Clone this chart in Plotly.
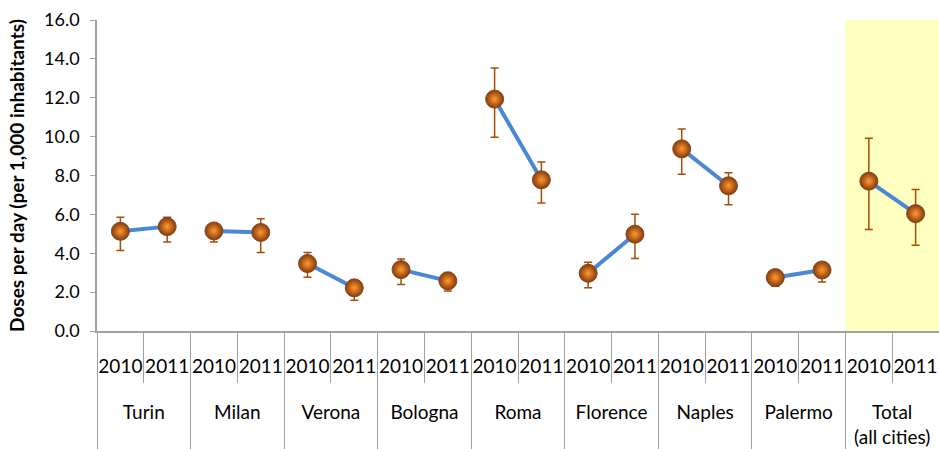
import plotly.graph_objects as go

cities = ["Turin", "Milan", "Verona", "Bologna", "Roma", "Florence", "Naples", "Palermo", "Total<br>(all cities)"]
years = ["2010", "2011"]
dose_2010 = [5.13, 5.15, 3.47, 3.16, 11.93, 2.97, 9.37, 2.75, 7.71]
dose_2011 = [5.37, 5.07, 2.22, 2.58, 7.78, 4.98, 7.47, 3.14, 6.04]
upper_2010 = [5.85, 5.44, 4.04, 3.71, 13.53, 3.54, 10.39, 3.10, 9.91]
lower_2010 = [4.14, 4.58, 2.77, 2.39, 9.97, 2.22, 8.07, 2.30, 5.22]
upper_2011 = [5.85, 5.77, 2.61, 3.01, 8.69, 6.01, 8.14, 3.50, 7.28]
lower_2011 = [4.58, 4.04, 1.58, 2.06, 6.58, 3.73, 6.49, 2.52, 4.41]
y_ticks = [0, 2, 4, 6, 8, 10, 12, 14, 16]

FONT = "Lato"
GREY = "#a0a0a0"
n_years = len(years)
n_slots = len(cities) * n_years
slot_pos = list(range(n_slots))
slot_text = years * len(cities)
slot_edges = [p - 0.5 for p in slot_pos] + [n_slots - 0.5]
group_centers = [i * n_years + (n_years - 1) / 2 for i in range(len(cities))]
group_edges = [i * n_years - 0.5 for i in range(len(cities) + 1)]

fig = go.Figure()

# connecting lines (one per city, on the year axis)
for i, c in enumerate(cities):
    xs = [i * n_years + k for k in range(n_years)]
    fig.add_trace(go.Scatter(
        x=xs, y=[dose_2010[i], dose_2011[i]], mode="lines", name=c,
        line=dict(color="#4a88d6", width=4), showlegend=False, hoverinfo="skip"))

# markers with error bars (on the overlaid city axis, same range)
for i, c in enumerate(cities):
    xs = [i * n_years + k for k in range(n_years)]
    ys = [dose_2010[i], dose_2011[i]]
    plus = [upper_2010[i] - dose_2010[i], upper_2011[i] - dose_2011[i]]
    minus = [dose_2010[i] - lower_2010[i], dose_2011[i] - lower_2011[i]]
    fig.add_trace(go.Scatter(
        x=xs, y=ys, xaxis="x2", mode="markers", name=c,
        marker=dict(size=18, color="#8a3a06",
                    gradient=dict(type="radial", color="#ff9a35"),
                    line=dict(color="#7a4a30", width=1)),
        error_y=dict(type="data", symmetric=False, array=plus, arrayminus=minus,
                     color="#a84c08", thickness=1.5, width=4),
        showlegend=False, hoverinfo="y"))

fig.add_shape(type="rect", xref="x", yref="y",
              x0=group_edges[-2], x1=group_edges[-1], y0=0, y1=16.41,
              fillcolor="#ffffc0", line=dict(width=0), layer="below")

xr = [-0.5, n_slots - 0.5]
fig.update_layout(
    width=939, height=449,
    margin=dict(l=97, r=0, t=20, b=118),
    paper_bgcolor="white", plot_bgcolor="white",
    font=dict(family=FONT, color="black"),
    xaxis=dict(range=xr, showline=True, linecolor=GREY, linewidth=1.5,
               tickmode="array", tickvals=slot_pos, ticktext=slot_text, ticks="",
               minor=dict(tickmode="array", tickvals=slot_edges, ticks="outside",
                          ticklen=50, tickcolor=GREY, tickwidth=1),
               tickfont=dict(size=19, family=FONT), tickangle=0, automargin=False,
               ticklabelstandoff=17, showgrid=False, zeroline=False),
    xaxis2=dict(range=xr, overlaying="x", anchor="y", side="bottom", showline=False,
                tickmode="array", tickvals=group_centers, ticktext=cities, ticks="",
                minor=dict(tickmode="array", tickvals=group_edges, ticks="outside",
                           ticklen=118, tickcolor=GREY, tickwidth=1, showgrid=False),
                tickfont=dict(size=19, family=FONT), tickangle=0, automargin=False,
                ticklabelstandoff=68, showgrid=False, zeroline=False),
    yaxis=dict(range=[0, 16], tickvals=y_ticks, ticktext=[f"{v:.1f}" for v in y_ticks],
               showline=True, linecolor=GREY, linewidth=1.5, ticks="outside",
               ticklen=5, tickcolor=GREY, tickfont=dict(size=18, family=FONT),
               ticklabelstandoff=7,
               showgrid=False, zeroline=False, automargin=False,
               title=dict(text="<b>Doses per day (per 1,000 inhabitants)</b>",
                          font=dict(size=19, family=FONT), standoff=14)),
)

fig.write_html("out.html",
               config={"displayModeBar": False},
               post_script="document.body.style.margin='0';document.body.style.overflow='hidden';")
